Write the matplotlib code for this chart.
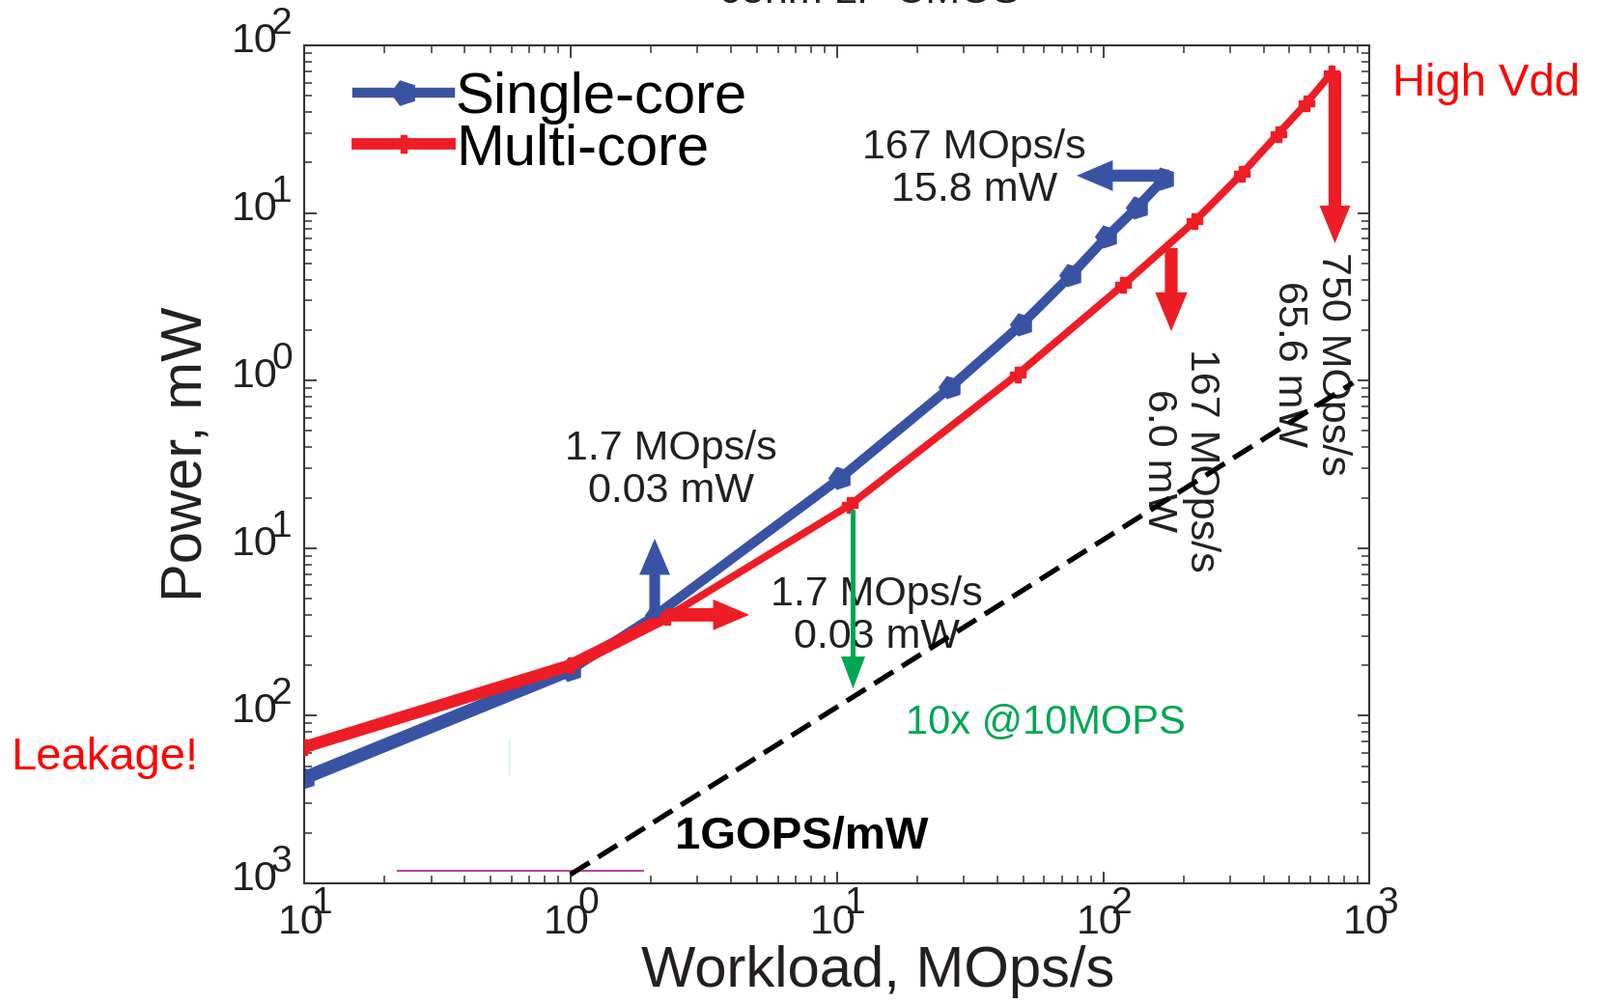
import matplotlib

matplotlib.use("Agg")
import matplotlib.pyplot as plt
from matplotlib.lines import Line2D
from matplotlib.transforms import offset_copy

plt.rcParams["font.family"] = ["Liberation Sans", "DejaVu Sans"]

# measured curves (MOps/s, mW)
single_x = [0.1, 1.0, 2.1, 10.3, 26.7, 49.3, 75.4, 103, 134, 169]
single_y = [0.00425, 0.0188, 0.040, 0.262, 0.914, 2.16, 4.23, 7.2, 10.8, 16.0]
multi_x = [0.1, 1.0, 2.3, 11.2, 47.7, 119, 220, 331, 454, 578, 717]
multi_y = [0.0065, 0.020, 0.039, 0.181, 1.09, 3.73, 8.9, 17.1, 29.7, 45.1, 68.0]

# 1 GOPS/mW reference line
gops_x = [1.0, 867]
gops_y = [0.00113, 0.97]

# stray marks in the original figure
magenta_x = [0.224, 1.875]
magenta_y = [0.00119, 0.00119]
cyan_x = [0.587, 0.587]
cyan_y = [0.0073, 0.00448]

# arrows: (tail_x, tail_y, head_x, head_y)
blue_up = (2.07, 0.0384, 2.07, 0.114)
red_right = (2.32, 0.040, 4.69, 0.040)
blue_left = (177, 16.7, 79.4, 16.7)
red_down_small = (180, 6.17, 180, 1.97)
red_down_big = (741, 69.0, 741, 6.6)
green_down = (11.5, 0.169, 11.5, 0.0145)

x_ticks = [0.1, 1, 10, 100, 1000]
x_exp = ["1", "0", "1", "2", "3"]
y_ticks = [100, 10, 1, 0.1, 0.01, 0.001]
y_exp = ["2", "1", "0", "1", "2", "3"]

BLUE = "#3953a4"
RED = "#ee1c25"
GREEN = "#00a651"
INK = "#231f20"

fig = plt.figure(figsize=(16.58, 10.4), dpi=100)
ax = fig.add_axes([0.19, 0.1202, 0.6655, 0.8346])
ax.set_xscale("log")
ax.set_yscale("log")
ax.set_xlim(0.1, 1000)
ax.set_ylim(0.001, 100)

pent = (5, 0, 90)
ax.plot(single_x, single_y, color=BLUE, lw=7.2, marker=pent, ms=17, zorder=2)
ax.plot(single_x[:2], single_y[:2], color=BLUE, lw=10, solid_capstyle="butt", zorder=2)
ax.plot(multi_x, multi_y, color=RED, lw=5.5, marker="P", ms=12, zorder=3)
ax.plot(multi_x[:3], multi_y[:3], color=RED, lw=9, solid_capstyle="butt", zorder=3)

ax.plot(gops_x, gops_y, color="black", lw=3.8, ls=(0, (4.4, 2.0)), zorder=6)
ax.plot(magenta_x, magenta_y, color="#b0409a", lw=1.4, zorder=1)
ax.plot(cyan_x, cyan_y, color="#d6eef2", lw=1.0, zorder=1)


def arrow(spec, color, tail, hw, hl, z=4):
    tx, ty, hx, hy = spec
    ax.annotate(
        "",
        xy=(hx, hy),
        xytext=(tx, ty),
        arrowprops=dict(
            arrowstyle=f"simple,head_length={hl},head_width={hw},tail_width={tail}",
            mutation_scale=1,
            color=color,
            lw=0,
            shrinkA=0,
            shrinkB=0,
        ),
        zorder=z,
    )


arrow(blue_up, BLUE, 8, 23, 27)
arrow(red_right, RED, 10, 23, 27)
arrow(blue_left, BLUE, 9, 23, 27)
arrow(red_down_small, RED, 9.5, 24, 29)
arrow(red_down_big, RED, 9.5, 23, 28)
arrow(green_down, GREEN, 3.6, 18, 24, z=7)

txt = dict(fontsize=31, color=INK, ha="center", va="center", linespacing=1.15, zorder=3)
ax.text(2.39, 0.292, "1.7 MOps/s\n0.03 mW", **txt)
ax.text(32.7, 18.3, "167 MOps/s\n15.8 mW", **txt)
ax.text(14.1, 0.0395, "1.7 MOps/s\n0.03 mW", **txt)
ax.text(601, 1.256, "750 MOps/s\n65.6 mW", rotation=270, rotation_mode="anchor", **txt)
ax.text(194, 0.333, "167 MOps/s\n6.0 mW", rotation=270, rotation_mode="anchor", **txt)

ax.text(18.1, 0.00904, "10x @10MOPS", fontsize=30, color=GREEN, ha="left", va="center")
ax.text(2.47, 0.00189, "1GOPS/mW", fontsize=34, fontweight="bold", color="black",
        ha="left", va="center")

fig.text(0.0066, 0.245, "Leakage!", fontsize=34, color="#ff0000", ha="left", va="center")
fig.text(0.870, 0.916, "High Vdd", fontsize=34, color="#ff0000", ha="left", va="center")
fig.text(0.543, 0.9975, "65nm LP CMOS", fontsize=31, color=INK, ha="center", va="baseline")

# legend
handles = [
    Line2D([], [], color=BLUE, lw=7.5, marker=pent, ms=19),
    Line2D([], [], color=RED, lw=8.5, marker="P", ms=13),
]
ax.legend(handles, ["Single-core", "Multi-core"], loc="upper left",
          bbox_to_anchor=(0.050, 0.969), frameon=False, fontsize=43,
          handlelength=1.6, handletextpad=0.1, labelspacing=-0.03,
          borderpad=0, borderaxespad=0)

# axes styling
for sp in ax.spines.values():
    sp.set_color("#333333")
    sp.set_linewidth(1.5)
ax.tick_params(which="both", direction="in", top=True, right=True,
               labelbottom=False, labelleft=False, color="#333333")
ax.tick_params(which="major", length=9, width=1.3)
ax.tick_params(which="minor", length=5.5, width=1.1)

# tick labels drawn as "10" with an overlapping exponent
xt = ax.get_xaxis_transform()
for xv, e in zip(x_ticks, x_exp):
    base = offset_copy(xt, fig=fig, x=20, y=-41, units="dots")
    sup = offset_copy(xt, fig=fig, x=8, y=-21, units="dots")
    ax.text(xv, 0, "10", transform=base, fontsize=31, color=INK,
            ha="right", va="center", clip_on=False)
    ax.text(xv, 0, e, transform=sup, fontsize=28, color=INK,
            ha="left", va="center", clip_on=False)

yt = ax.get_yaxis_transform()
for yv, e in zip(y_ticks, y_exp):
    base = offset_copy(yt, fig=fig, x=-28, y=4, units="dots")
    sup = offset_copy(yt, fig=fig, x=-34, y=22, units="dots")
    ax.text(0, yv, "10", transform=base, fontsize=31, color=INK,
            ha="right", va="center", clip_on=False)
    ax.text(0, yv, e, transform=sup, fontsize=28, color=INK,
            ha="left", va="center", clip_on=False)

ax.set_xlabel("Workload, MOps/s", fontsize=43, color=INK)
ax.xaxis.set_label_coords(0.5385, -0.106)
ax.xaxis.label.set_va("center")
ax.set_ylabel("Power, mW", fontsize=43, color=INK)
ax.yaxis.set_label_coords(-0.1106, 0.5127)
ax.yaxis.label.set_va("center")

fig.savefig("out.png", dpi=100)
